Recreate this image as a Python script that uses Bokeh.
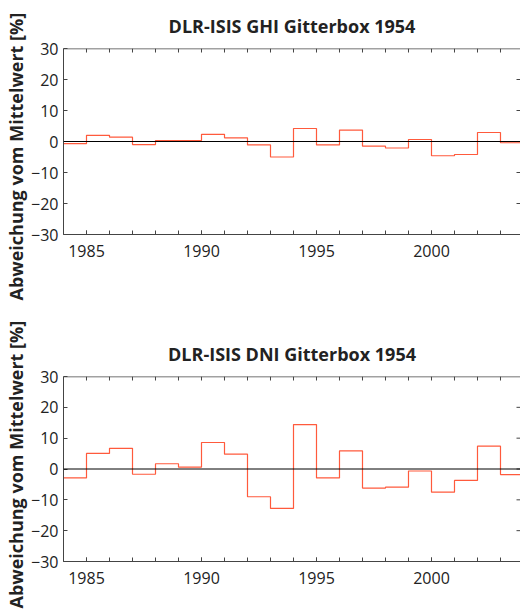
from bokeh.plotting import figure
from bokeh.layouts import column
from bokeh.models import Range1d, SingleIntervalTicker, FixedTicker, LinearAxis, Span, Title
from bokeh.embed import file_html
from bokeh.resources import INLINE

years = list(range(1984, 2004))
ghi = [-0.7, 2.0, 1.4, -1.0, 0.3, 0.3, 2.3, 1.2, -1.1, -5.0, 4.2, -1.1, 3.7, -1.5, -2.1, 0.65, -4.6, -4.2, 2.9, -0.4]
dni = [-2.9, 5.05, 6.7, -1.7, 1.7, 0.6, 8.6, 4.8, -9.0, -12.8, 14.4, -2.9, 5.9, -6.2, -5.9, -0.65, -7.5, -3.7, 7.4, -1.8]
titles = ["DLR-ISIS GHI Gitterbox 1954", "DLR-ISIS DNI Gitterbox 1954"]
ylabel = "Abweichung vom Mittelwert  [%]"
yticks = [-30, -20, -10, 0, 10, 20, 30]

FONT = "Open Sans"
LINE = "#ff5a3c"
AX = "#444444"
TXT = "#222222"
PX_PER_YEAR = 23.07
X0 = 1984
X1 = 2004 - 3.0 / PX_PER_YEAR


def make(title, vals, height, top, bottom, label_offset):
    frame_h = height - top - bottom
    p = figure(width=520, height=height, output_backend="svg", toolbar_location=None,
               x_range=Range1d(X0, X1), y_range=Range1d(-30, 30),
               min_border_left=61, min_border_right=0, min_border_top=top, min_border_bottom=bottom,
               x_axis_location=None, y_axis_location=None)
    p.title.text = title
    p.title.align = "center"
    p.title.text_font = FONT
    p.title.text_font_size = "18px"
    p.title.text_font_style = "bold"
    p.title.text_color = TXT
    p.title.standoff = 22
    p.grid.visible = False
    p.outline_line_color = None

    def style(ax):
        ax.axis_line_color = AX
        ax.major_tick_line_color = AX
        ax.minor_tick_line_color = AX
        ax.major_tick_in = 4
        ax.major_tick_out = 0
        ax.minor_tick_in = 4
        ax.minor_tick_out = 0
        ax.major_label_text_font = FONT
        ax.major_label_text_font_size = "16px"
        ax.major_label_text_color = TXT

    xb = LinearAxis(ticker=SingleIntervalTicker(interval=5, num_minor_ticks=5))
    style(xb)
    xb.major_label_standoff = 10
    p.add_layout(xb, "below")

    yl = LinearAxis(ticker=FixedTicker(ticks=yticks, minor_ticks=[]))
    style(yl)
    yl.major_label_standoff = 5
    p.add_layout(yl, "left")

    lab = Title(text=ylabel, align="left", offset=label_offset, text_font=FONT,
                text_font_size="18px", text_font_style="bold", text_color=TXT, standoff=2)
    p.add_layout(lab, "left")

    # frame top edge
    p.add_layout(Span(location=yticks[-1], dimension="width", line_color=AX, line_width=1.5))
    # mirrored ticks (top and right), inward
    ty = 4.0 * (yticks[-1] - yticks[0]) / frame_h
    tx = 4.0 / PX_PER_YEAR
    top_x = years[1:]
    p.segment(x0=top_x, y0=[yticks[-1]] * len(top_x), x1=top_x, y1=[yticks[-1] - ty] * len(top_x),
              line_color=AX, line_width=1)
    r_y = yticks[1:-1]
    p.segment(x0=[X1] * len(r_y), y0=r_y, x1=[X1 - tx] * len(r_y), y1=r_y,
              line_color=AX, line_width=1)

    p.add_layout(Span(location=0, dimension="width", line_color="black", line_width=1))
    xs = years + [years[-1] + 1]
    ys = vals + [vals[-1]]
    p.step(xs, ys, mode="after", line_color=LINE, line_width=1.2)
    return p


p1 = make(titles[0], ghi, 320, 48, 86, -66)
p2 = make(titles[1], dni, 293, 56, 52, -47)
layout = column(p1, p2, spacing=0)
open("out.html", "w").write(file_html(layout, INLINE))
